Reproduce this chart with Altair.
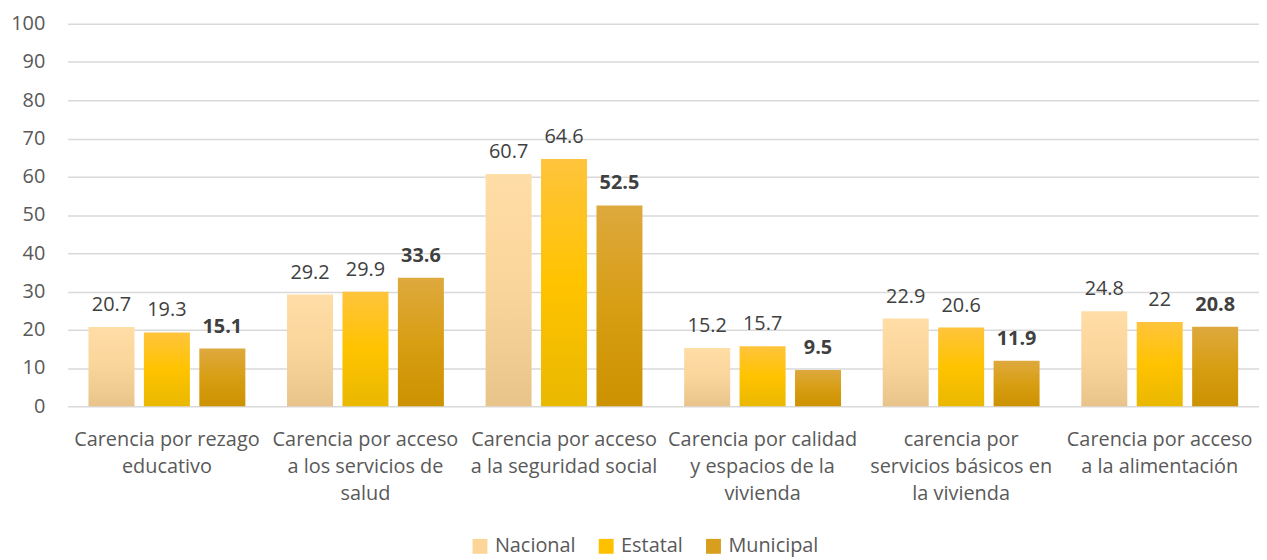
import altair as alt
import pandas as pd

categories = [
    "Carencia por rezago|educativo",
    "Carencia por acceso|a los servicios de|salud",
    "Carencia por acceso|a la seguridad social",
    "Carencia por calidad|y espacios de la|vivienda",
    "carencia por|servicios básicos en|la vivienda",
    "Carencia por acceso|a la alimentación",
]
series = ["Nacional", "Estatal", "Municipal"]
nacional = [20.7, 29.2, 60.7, 15.2, 22.9, 24.8]
estatal = [19.3, 29.9, 64.6, 15.7, 20.6, 22]
municipal = [15.1, 33.6, 52.5, 9.5, 11.9, 20.8]
y_ticks = list(range(0, 101, 10))

rows = []
for i, c in enumerate(categories):
    for s, vals in zip(series, [nacional, estatal, municipal]):
        v = vals[i]
        rows.append({"cat": c, "series": s, "value": v, "label": f"{v:g}"})
df = pd.DataFrame(rows)

FONT = "Open Sans"
solid = ["#FBD698", "#FFC000", "#D89E1E"]


def grad(stops):
    return alt.LinearGradient(
        gradient="linear",
        stops=[alt.GradientStop(color=c, offset=o) for o, c in stops],
        x1=0, x2=0, y1=0, y2=1,
    )


grads = {
    "Nacional": grad([(0, "#FFDDA6"), (0.5, "#FAD59B"), (1, "#E8C48B")]),
    "Estatal": grad([(0, "#FFC43C"), (0.5, "#FFC300"), (1, "#E9B800")]),
    "Municipal": grad([(0, "#DEA93E"), (0.5, "#D89E14"), (1, "#CC9200")]),
}

x = alt.X(
    "cat:N",
    sort=categories,
    scale=alt.Scale(paddingInner=0.21, paddingOuter=0.105),
    axis=alt.Axis(
        title=None,
        labelExpr="split(datum.label, '|')",
        labelAngle=0,
        labelFont=FONT,
        labelFontSize=20,
        labelLineHeight=27,
        labelColor="#595959",
        labelPadding=24,
        ticks=False,
        domain=False,
        grid=False,
        labelLimit=400,
        labelOverlap=False,
        labelBound=False,
    ),
)
xo = alt.XOffset(
    "series:N",
    sort=series,
    scale=alt.Scale(domain=series, paddingInner=0.17, paddingOuter=0),
)
y = alt.Y(
    "value:Q",
    scale=alt.Scale(domain=[0, 100], nice=False),
    axis=alt.Axis(
        title=None,
        values=y_ticks,
        labelFont=FONT,
        labelFontSize=20,
        labelColor="#595959",
        labelPadding=23,
        ticks=False,
        domain=False,
        gridColor="#D9D9D9",
        gridWidth=1.5,
    ),
)

base = alt.Chart(df).mark_bar(opacity=0).encode(
    x=x,
    xOffset=xo,
    y=y,
    color=alt.Color(
        "series:N",
        sort=series,
        scale=alt.Scale(domain=series, range=solid),
        legend=alt.Legend(
            title=None,
            orient="none",
            legendX=405,
            legendY=516,
            direction="horizontal",
            symbolType="square",
            symbolSize=225,
            symbolOpacity=1,
            symbolStrokeWidth=0,
            labelFont=FONT,
            labelFontSize=20,
            labelColor="#595959",
            labelOffset=5,
            columnPadding=20,
        ),
    ),
)

layers = [base]
for s in series:
    layers.append(
        alt.Chart(df)
        .transform_filter(alt.datum.series == s)
        .mark_bar(fill=grads[s])
        .encode(x=x, xOffset=xo, y=y)
    )

text_normal = (
    alt.Chart(df)
    .transform_filter(alt.datum.series != "Municipal")
    .mark_text(dy=-16, baseline="alphabetic", font=FONT, fontSize=20, color="#404040")
    .encode(x=x, xOffset=xo, y=y, text="label:N")
)
text_bold = (
    alt.Chart(df)
    .transform_filter(alt.datum.series == "Municipal")
    .mark_text(dy=-16, baseline="alphabetic", font=FONT, fontSize=20, fontWeight="bold", color="#404040")
    .encode(x=x, xOffset=xo, y=y, text="label:N")
)
layers += [text_normal, text_bold]

chart = (
    alt.layer(*layers)
    .properties(
        width=1199,
        height=385,
        padding={"left": 60, "top": 14, "right": 0, "bottom": 155},
        autosize=alt.AutoSizeParams(type="none"),
    )
    .configure_view(stroke=None)
)

chart.save("out.html", embed_options={"renderer": "svg", "actions": False})
